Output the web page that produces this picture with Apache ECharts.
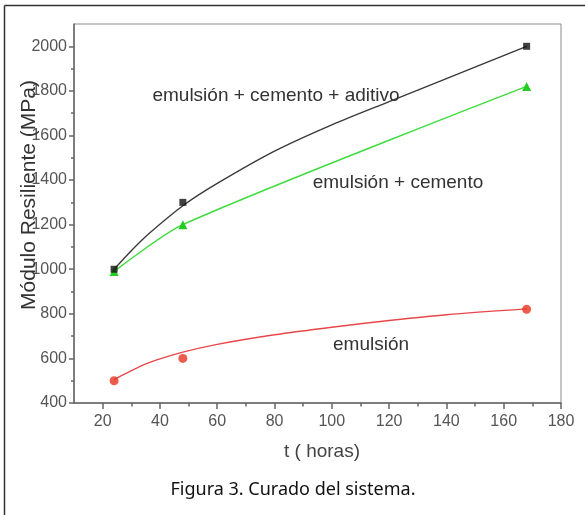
<!DOCTYPE html>
<html>
<head>
<meta charset="utf-8">
<script src="https://cdn.jsdelivr.net/npm/echarts@6/dist/echarts.min.js"></script>
<style>
  html, body { margin: 0; padding: 0; background: #fff; }
  #chart { width: 585px; height: 515px; }
</style>
</head>
<body>
<div id="chart"></div>
<script>
// ---- data ----
const hoursPts = [24, 48, 168];
const aditivoPts = [1000, 1300, 2000];      // emulsión + cemento + aditivo (squares)
const cementoPts = [990, 1200, 1820];       // emulsión + cemento (triangles)
const emulsionPts = [500, 600, 820];        // emulsión (circles)

const aditivoFitT = [24, 30, 36, 48, 60, 80, 100, 120, 140, 168];
const aditivoFitV = [1000, 1083, 1158, 1285, 1385, 1530, 1648, 1752, 1855, 2000];
const emulsionFitT = [24, 28, 36, 48, 60, 80, 100, 120, 140, 168];
const emulsionFitV = [505, 532, 580, 628, 663, 706, 740, 770, 796, 822];

const xMajorTicks = [20, 40, 60, 80, 100, 120, 140, 160, 180];
const xMinorTicks = [30, 50, 70, 90, 110, 130, 150, 170];
const yMajorTicks = [400, 600, 800, 1000, 1200, 1400, 1600, 1800, 2000];
const yMinorTicks = [500, 700, 900, 1100, 1300, 1500, 1700, 1900];

const labels = {
  aditivo: 'emulsión + cemento + aditivo',
  cemento: 'emulsión + cemento',
  emulsion: 'emulsión',
  xName: 't ( horas)',
  yName: 'Módulo Resiliente (MPa)',
  caption: 'Figura 3. Curado del sistema.'
};

const zip = (a, b) => a.map((v, i) => [v, b[i]]);

const axisGray = '#666';
const labelGray = '#555';
const fam = 'Liberation Sans';
const font = '"Liberation Sans", Arial, sans-serif';

const chart = echarts.init(document.getElementById('chart'));
chart.setOption({
  animation: false,
  backgroundColor: '#fff',
  grid: { left: 74, right: 24, top: 24, bottom: 112, show: true, borderColor: '#8a8a8a', borderWidth: 1 },
  xAxis: [
    {
      type: 'value', min: 10, max: 180, interval: 10, position: 'bottom',
      axisLine: { lineStyle: { color: axisGray, width: 1.5 } },
      axisTick: { customValues: xMajorTicks, length: 6, lineStyle: { color: axisGray, width: 1.5 } },
      axisLabel: { customValues: xMajorTicks, fontSize: 16, color: labelGray, margin: 11, fontFamily: fam,
                   formatter: v => String(v) },
      splitLine: { show: false }
    },
    {
      type: 'value', min: 10, max: 180, interval: 10, position: 'bottom',
      axisLine: { show: false },
      axisTick: { customValues: xMinorTicks, length: 3.5, lineStyle: { color: axisGray, width: 1.5 } },
      axisLabel: { show: false },
      splitLine: { show: false }
    }
  ],
  yAxis: [
    {
      type: 'value', min: 400, max: 2100, interval: 100, position: 'left',
      axisLine: { show: true, lineStyle: { color: axisGray, width: 1.5 } },
      axisTick: { show: true, customValues: yMajorTicks, length: 5, lineStyle: { color: axisGray, width: 1.5 } },
      axisLabel: { customValues: yMajorTicks, fontSize: 16, color: labelGray, margin: 7, fontFamily: fam,
                   formatter: v => String(v) },
      splitLine: { show: false }
    },
    {
      type: 'value', min: 400, max: 2100, interval: 100, position: 'left',
      axisLine: { show: false },
      axisTick: { show: true, customValues: yMinorTicks, length: 3, lineStyle: { color: axisGray, width: 1.5 } },
      axisLabel: { show: false },
      splitLine: { show: false }
    }
  ],
  series: [
    {
      type: 'line', name: 'aditivo fit', data: zip(aditivoFitT, aditivoFitV), smooth: 0.3,
      showSymbol: false, lineStyle: { color: '#3a3a3a', width: 1.4 }, z: 2
    },
    {
      type: 'scatter', name: labels.aditivo, data: zip(hoursPts, aditivoPts), symbol: 'rect',
      symbolSize: 7, itemStyle: { color: '#111' }, z: 5
    },
    {
      type: 'line', name: labels.cemento, data: zip(hoursPts, cementoPts), smooth: 0.25,
      symbol: 'triangle', symbolSize: 9, showAllSymbol: true,
      lineStyle: { color: '#3fdc3f', width: 1.5 }, itemStyle: { color: '#22cc22' }, z: 3
    },
    {
      type: 'line', name: 'emulsion fit', data: zip(emulsionFitT, emulsionFitV), smooth: 0.3,
      showSymbol: false, lineStyle: { color: '#e8474a', width: 1.4 }, z: 2
    },
    {
      type: 'scatter', name: labels.emulsion, data: zip(hoursPts, emulsionPts), symbol: 'circle',
      symbolSize: 9, itemStyle: { color: '#e8341f' }, z: 5
    }
  ],
  graphic: [
    { type: 'line', shape: { x1: 4.5, y1: 5.5, x2: 585, y2: 5.5 }, style: { stroke: '#333', lineWidth: 1.5 }, silent: true },
    { type: 'line', shape: { x1: 4.5, y1: 5.5, x2: 4.5, y2: 515 }, style: { stroke: '#333', lineWidth: 1.5 }, silent: true },
    { type: 'text', x: 276, y: 96, style: { text: labels.aditivo, fill: '#333', font: '19px ' + font, textAlign: 'center', textVerticalAlign: 'middle' }, z: 10 },
    { type: 'text', x: 398, y: 183, style: { text: labels.cemento, fill: '#333', font: '19px ' + font, textAlign: 'center', textVerticalAlign: 'middle' }, z: 10 },
    { type: 'text', x: 371, y: 345, style: { text: labels.emulsion, fill: '#333', font: '19px ' + font, textAlign: 'center', textVerticalAlign: 'middle' }, z: 10 },
    { type: 'text', x: 322, y: 452, style: { text: labels.xName, fill: '#444', font: '19px ' + font, textAlign: 'center', textVerticalAlign: 'middle' }, z: 10 },
    { type: 'text', x: 29, y: 195, rotation: Math.PI / 2, style: { text: labels.yName, fill: '#333', font: '21px ' + font, textAlign: 'center', textVerticalAlign: 'middle' }, z: 10 },
    { type: 'text', x: 293, y: 490, style: { text: labels.caption, fill: '#111', font: '18px "Noto Sans", "Open Sans", sans-serif', textAlign: 'center', textVerticalAlign: 'middle' }, z: 10 }
  ]
});
</script>
</body>
</html>
